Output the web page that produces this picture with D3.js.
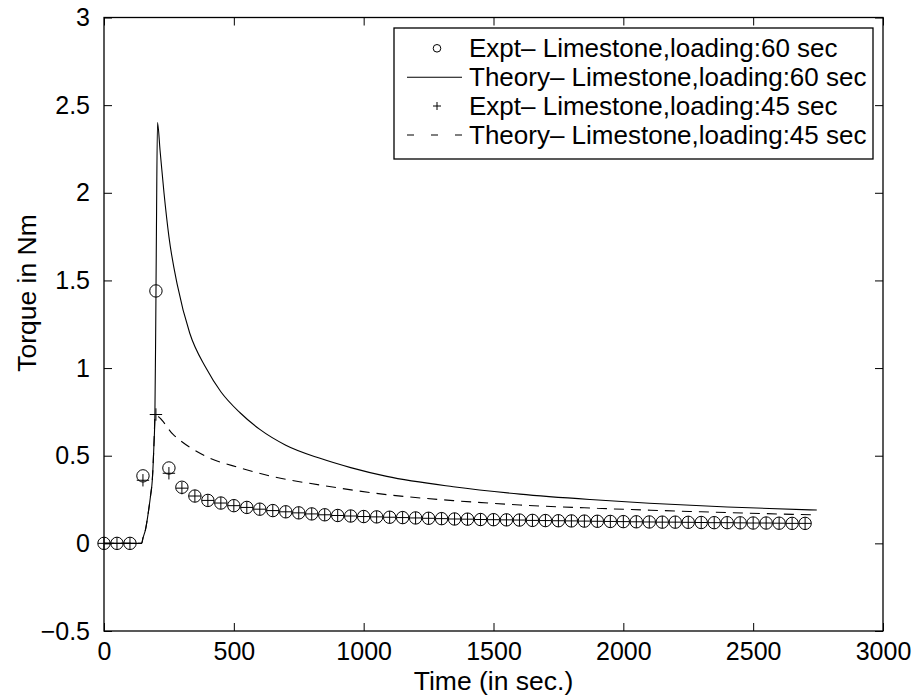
<!DOCTYPE html>
<html>
<head>
<meta charset="utf-8">
<script src="https://cdn.jsdelivr.net/npm/d3@7"></script>
<style>
  html, body { margin: 0; padding: 0; background: #fff; }
  svg text { font-family: "Liberation Sans", Arial, Helvetica, sans-serif; fill: #000; }
</style>
</head>
<body>
<svg id="chart" width="917" height="698"></svg>
<script>
// Experimental sampling times (s), every 50 s
const exptTime = d3.range(0, 2701, 50);

// Measured torque (Nm), loading 60 s
const expt60 = [0, 0, 0, 0.385, 1.44, 0.43, 0.32, 0.27, 0.245, 0.23, 0.215, 0.205, 0.195,
  0.187, 0.18, 0.174, 0.168, 0.163, 0.159, 0.156, 0.153, 0.151, 0.149, 0.147, 0.145,
  0.143, 0.141, 0.139, 0.138, 0.136, 0.135, 0.134, 0.133, 0.131, 0.13, 0.129, 0.128,
  0.127, 0.126, 0.125, 0.124, 0.123, 0.122, 0.121, 0.121, 0.12, 0.119, 0.118, 0.118,
  0.117, 0.116, 0.116, 0.115, 0.114, 0.114];

// Measured torque (Nm), loading 45 s
const expt45 = [0, 0, 0, 0.36, 0.735, 0.40, 0.315, 0.27, 0.245, 0.23, 0.215, 0.205, 0.195,
  0.187, 0.18, 0.174, 0.168, 0.163, 0.159, 0.156, 0.153, 0.151, 0.149, 0.147, 0.145,
  0.143, 0.141, 0.139, 0.138, 0.136, 0.135, 0.134, 0.133, 0.131, 0.13, 0.129, 0.128,
  0.127, 0.126, 0.125, 0.124, 0.123, 0.122, 0.121, 0.121, 0.12, 0.119, 0.118, 0.118,
  0.117, 0.116, 0.116, 0.115, 0.114, 0.114];

// Theoretical curve, loading 60 s
const theory60Time = [0, 145, 150, 160, 170, 180, 186, 192, 196, 199, 202, 206,
  216, 231, 250, 283, 330, 393, 450, 524, 600, 700, 832, 950, 1089, 1345, 1602, 1872, 2100, 2400, 2745];
const theory60 = [0, 0, 0.03, 0.08, 0.17, 0.28, 0.36, 0.55, 0.73, 1.2, 1.8, 2.4,
  2.24, 2.0, 1.75, 1.47, 1.2, 1.0, 0.865, 0.745, 0.65, 0.56, 0.485, 0.432, 0.382, 0.323, 0.281, 0.25, 0.229, 0.207, 0.19];

// Theoretical curve, loading 45 s
const theory45Time = [0, 145, 150, 160, 170, 180, 186, 192, 197,
  267, 395, 526, 652, 832, 1089, 1345, 1602, 1900, 2300, 2745];
const theory45 = [0, 0, 0.03, 0.08, 0.17, 0.28, 0.36, 0.55, 0.73,
  0.62, 0.495, 0.43, 0.38, 0.333, 0.278, 0.244, 0.219, 0.20, 0.18, 0.162];

const xTicks = [0, 500, 1000, 1500, 2000, 2500, 3000];
const xTickLabels = ["0", "500", "1000", "1500", "2000", "2500", "3000"];
const yTicks = [-0.5, 0, 0.5, 1, 1.5, 2, 2.5, 3];
const yTickLabels = ["\u22120.5", "0", "0.5", "1", "1.5", "2", "2.5", "3"];

const legendLabels = [
  "Expt\u2013 Limestone,loading:60 sec",
  "Theory\u2013 Limestone,loading:60 sec",
  "Expt\u2013 Limestone,loading:45 sec",
  "Theory\u2013 Limestone,loading:45 sec"
];

const svg = d3.select("#chart");
const plot = { left: 104, right: 883, top: 17.5, bottom: 631 };

const x = d3.scaleLinear().domain([0, 3000]).range([plot.left, plot.right]);
const y = d3.scaleLinear().domain([-0.5, 3]).range([plot.bottom, plot.top]);

const fontTick = 25;
const fontLabel = 26.5;
const tickLen = 8;
const dash = "10,7";

// Axes box background
svg.append("rect")
  .attr("x", plot.left).attr("y", plot.top)
  .attr("width", plot.right - plot.left).attr("height", plot.bottom - plot.top)
  .attr("fill", "#fff");

// Bottom and left axes with inward ticks
const xAxis = d3.axisBottom(x).tickValues(xTicks)
  .tickFormat((d, i) => xTickLabels[i]).tickSizeInner(-tickLen).tickSizeOuter(0).tickPadding(11);
const yAxis = d3.axisLeft(y).tickValues(yTicks)
  .tickFormat((d, i) => yTickLabels[i]).tickSizeInner(-tickLen).tickSizeOuter(0).tickPadding(14);

const gx = svg.append("g").attr("transform", `translate(0,${plot.bottom})`).call(xAxis);
const gy = svg.append("g").attr("transform", `translate(${plot.left},0)`).call(yAxis);

// Mirror ticks on top and right
const gxTop = svg.append("g").attr("transform", `translate(0,${plot.top})`)
  .call(d3.axisTop(x).tickValues(xTicks).tickFormat("").tickSizeInner(-tickLen).tickSizeOuter(0));
const gyRight = svg.append("g").attr("transform", `translate(${plot.right},0)`)
  .call(d3.axisRight(y).tickValues(yTicks).tickFormat("").tickSizeInner(-tickLen).tickSizeOuter(0));

[gx, gy, gxTop, gyRight].forEach(g => {
  g.select(".domain").remove();
  g.selectAll("line").attr("stroke", "#000").attr("stroke-width", 1);
  g.selectAll("text").attr("font-size", fontTick).attr("fill", "#000")
    .style("font-family", "'Liberation Sans', Arial, sans-serif");
});

// Box outline
svg.append("rect")
  .attr("x", plot.left).attr("y", plot.top)
  .attr("width", plot.right - plot.left).attr("height", plot.bottom - plot.top)
  .attr("fill", "none").attr("stroke", "#000").attr("stroke-width", 1.3);

// Axis titles
svg.append("text")
  .attr("x", (plot.left + plot.right) / 2).attr("y", 690)
  .attr("text-anchor", "middle").attr("font-size", fontLabel)
  .text("Time (in sec.)");
svg.append("text")
  .attr("transform", `translate(36,293) rotate(-90)`)
  .attr("text-anchor", "middle").attr("font-size", fontLabel)
  .text("Torque in Nm");

const line = d3.line().x(d => x(d[0])).y(d => y(d[1])).curve(d3.curveMonotoneX);

// Theory curves
svg.append("path")
  .datum(theory45Time.map((t, i) => [t, theory45[i]]))
  .attr("d", line).attr("fill", "none").attr("stroke", "#000")
  .attr("stroke-width", 1.1).attr("stroke-dasharray", dash);
svg.append("path")
  .datum(theory60Time.map((t, i) => [t, theory60[i]]))
  .attr("d", line).attr("fill", "none").attr("stroke", "#000")
  .attr("stroke-width", 1.1);

// Experimental markers
const circleR = 6.2, plusR = 6.2;
svg.append("g").selectAll("circle")
  .data(exptTime.map((t, i) => [t, expt60[i]]))
  .join("circle")
  .attr("cx", d => x(d[0])).attr("cy", d => y(d[1])).attr("r", circleR)
  .attr("fill", "none").attr("stroke", "#000").attr("stroke-width", 1);

const plusPath = (cx, cy, r) => `M${cx - r},${cy}H${cx + r}M${cx},${cy - r}V${cy + r}`;
svg.append("g").selectAll("path")
  .data(exptTime.map((t, i) => [t, expt45[i]]))
  .join("path")
  .attr("d", d => plusPath(x(d[0]), y(d[1]), plusR))
  .attr("fill", "none").attr("stroke", "#000").attr("stroke-width", 1);

// Legend
const lg = { x: 394, y: 28, w: 479, h: 131, rowY: [48.3, 77.3, 106, 135], textX: 469, symX0: 407, symX1: 462, symMid: 437 };
svg.append("rect")
  .attr("x", lg.x).attr("y", lg.y).attr("width", lg.w).attr("height", lg.h)
  .attr("fill", "#fff").attr("stroke", "#000").attr("stroke-width", 1.3);

svg.append("circle").attr("cx", lg.symMid).attr("cy", lg.rowY[0]).attr("r", 3.8)
  .attr("fill", "none").attr("stroke", "#000").attr("stroke-width", 1);
svg.append("line").attr("x1", lg.symX0).attr("x2", lg.symX1)
  .attr("y1", lg.rowY[1]).attr("y2", lg.rowY[1]).attr("stroke", "#000").attr("stroke-width", 1.1);
svg.append("path").attr("d", plusPath(lg.symMid, lg.rowY[2], 4))
  .attr("stroke", "#000").attr("stroke-width", 1);
svg.append("line").attr("x1", lg.symX0).attr("x2", lg.symX1)
  .attr("y1", lg.rowY[3]).attr("y2", lg.rowY[3]).attr("stroke", "#000").attr("stroke-width", 1.1)
  .attr("stroke-dasharray", "7,17");

svg.append("g").selectAll("text")
  .data(legendLabels)
  .join("text")
  .attr("x", lg.textX).attr("y", (d, i) => lg.rowY[i]).attr("dy", "0.35em")
  .attr("font-size", 26)
  .text(d => d);
</script>
</body>
</html>
